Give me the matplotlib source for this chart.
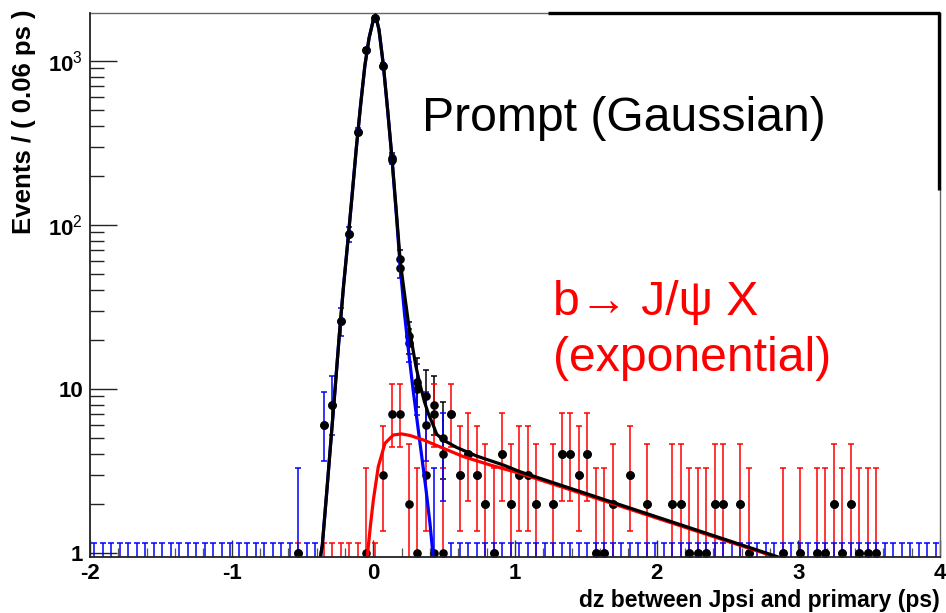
import numpy as np
import matplotlib
matplotlib.use("Agg")
import matplotlib.pyplot as plt
from matplotlib.ticker import FixedLocator, FixedFormatter, NullFormatter

plt.rcParams['font.family'] = ['Liberation Sans', 'DejaVu Sans']
plt.rcParams['mathtext.fontset'] = 'custom'
plt.rcParams['mathtext.rm'] = 'Liberation Sans'
plt.rcParams['mathtext.bf'] = 'Liberation Sans:bold'

# ---------------- data (bin index k -> centre -2 + 0.06*(k+0.5)) ----------------
x_min, x_max, n_bins = -2.0, 4.0, 100

prompt_bins = [24, 27, 28, 29, 30, 31, 32, 33, 34, 35, 36, 37, 38, 39, 40, 41]
prompt_counts = [1, 6, 8, 26, 88, 371, 1166, 1829, 933, 250, 55, 19, 10, 6, 1, 4]

nonprompt_bins = [32, 34, 35, 36, 37, 38, 39, 40, 41,
                  42, 43, 44, 45, 46, 47, 48, 49, 50, 51, 52, 54, 55, 56, 57, 58,
                  59, 60, 61, 63, 65, 68, 69, 70, 71, 72, 73, 74, 76, 77, 81, 83,
                  85, 86, 87, 88, 89, 90, 91, 92]
nonprompt_counts = [1, 3, 7, 7, 2, 1, 3, 7, 1,
                    7, 3, 4, 3, 2, 1, 4, 2, 3, 3, 2, 2, 4, 4, 3, 4,
                    1, 1, 2, 3, 2, 2, 2, 1, 1, 1, 2, 2, 2, 1, 1, 1,
                    1, 1, 2, 1, 2, 1, 1, 1]

total_bins = [24, 27, 28, 29, 30, 31, 32, 33, 34, 35, 36, 37, 38, 39, 40, 41,
              42, 43, 44, 45, 46, 47, 48, 49, 50, 51, 52, 54, 55, 56, 57, 58,
              59, 60, 61, 63, 65, 68, 69, 70, 71, 72, 73, 74, 76, 77, 81, 83,
              85, 86, 87, 88, 89, 90, 91, 92]
total_counts = [1, 6, 8, 26, 88, 371, 1167, 1829, 936, 257, 62, 21, 11, 9, 8, 5,
                7, 3, 4, 3, 2, 1, 4, 2, 3, 3, 2, 2, 4, 4, 3, 4,
                1, 1, 2, 3, 2, 2, 2, 1, 1, 1, 2, 2, 2, 1, 1, 1,
                1, 1, 2, 1, 2, 1, 1, 1]

# fitted curves
prompt_curve_x = [-0.39, -0.36, -0.33, -0.30, -0.27, -0.24, -0.21, -0.18, -0.15, -0.12,
                  -0.09, -0.06, -0.03, 0.0, 0.015, 0.04, 0.07, 0.10, 0.13, 0.16, 0.19,
                  0.22, 0.25, 0.28, 0.31, 0.34, 0.37, 0.40, 0.42, 0.44]
prompt_curve_y = [0.76, 1.12, 2.29, 4.79, 10.0, 21.4, 42.7, 79.4, 151, 295,
                  537, 933, 1380, 1778, 1905, 1549, 955, 513, 263, 123, 55,
                  28.8, 16.6, 10.0, 6.3, 3.98, 2.51, 1.51, 1.0, 0.63]

nonprompt_curve_x = [-0.05, -0.043, -0.02, 0.0, 0.035, 0.082, 0.141, 0.20, 0.26, 0.353,
                     0.494, 0.635, 0.824, 1.035, 2.80, 2.95]
nonprompt_curve_y = [0.80, 0.95, 1.48, 2.1, 3.36, 4.66, 5.24, 5.32, 5.2, 4.89,
                     4.35, 3.87, 3.44, 3.06, 0.97, 0.88]

total_curve_x = [-0.39, -0.36, -0.33, -0.30, -0.27, -0.24, -0.21, -0.18, -0.15, -0.12,
                 -0.09, -0.06, -0.03, 0.0, 0.015, 0.04, 0.07, 0.10, 0.13, 0.16, 0.19,
                 0.22, 0.25, 0.27, 0.30, 0.33, 0.36, 0.39, 0.42, 0.447, 0.50, 0.588,
                 0.729, 0.917, 1.035, 2.85, 2.95]
total_curve_y = [0.76, 1.12, 2.29, 4.79, 10.0, 21.4, 42.7, 79.4, 151, 295,
                 537, 933, 1380, 1778, 1905, 1549, 955, 513, 265, 128, 60,
                 38, 24.5, 19.5, 13.8, 10.6, 8.4, 7.0, 6.1, 5.3, 4.85, 4.4,
                 3.9, 3.44, 3.13, 0.95, 0.89]

# Poisson 68% intervals (as drawn by RooFit) for small counts
poisson_lo = [0.0, 0.173, 0.708, 1.367, 2.086, 2.840, 3.620, 4.419, 5.232, 6.057, 6.891, 7.734]
poisson_hi = [1.148, 3.300, 4.638, 5.918, 7.163, 8.382, 9.584, 10.77, 11.95, 13.11, 14.27, 15.42]

# ---------------- figure ----------------
fig = plt.figure(figsize=(9.46, 6.13), dpi=100)
ax = fig.add_axes([90 / 946, 1 - 557 / 613, 850 / 946, 544 / 613])
ax.set_xlim(x_min, x_max)
ax.set_yscale('log')
ax.set_ylim(0.945, 1960)

width = (x_max - x_min) / n_bins
centres = x_min + width * (np.arange(n_bins) + 0.5)


def full_counts(bins, counts):
    c = np.zeros(n_bins, dtype=int)
    c[np.array(bins)] = counts
    return c


c_tot = full_counts(total_bins, total_counts)
c_np = full_counts(nonprompt_bins, nonprompt_counts)
c_p = full_counts(prompt_bins, prompt_counts)


def draw_bars(c, show, color, z):
    lo = np.empty(n_bins)
    hi = np.empty(n_bins)
    for i, n in enumerate(c):
        if n < len(poisson_lo):
            lo[i], hi[i] = poisson_lo[n], poisson_hi[n]
        else:
            lo[i], hi[i] = n - np.sqrt(n), n + np.sqrt(n)
    lo = np.maximum(lo, 0.5)
    x = centres[show]
    ax.vlines(x, lo[show], hi[show], colors=color, lw=1.1, zorder=z)
    ax.plot(x, hi[show], ls='none', marker='_', ms=5, mew=1.1, color=color, zorder=z)
    ax.plot(x, lo[show], ls='none', marker='_', ms=5, mew=1.1, color=color, zorder=z)


# the three datasets overlap; only the visible layer is drawn for each bin
draw_bars(c_tot, (c_p > 0) & (c_np > 0), 'black', 2)
draw_bars(c_np, (c_np > 0) | (c_p > 0), '#ff0000', 3)
draw_bars(c_p, np.ones(n_bins, dtype=bool), '#0000ff', 4)

for c in (c_tot, c_np, c_p):
    m = c > 0
    ax.plot(centres[m], c[m], ls='none', marker='o', ms=6.2, color='black',
            mec='none', zorder=5)

ax.plot(prompt_curve_x, prompt_curve_y, color='#0000ff', lw=2.3, zorder=6,
        solid_joinstyle='round')
ax.plot(nonprompt_curve_x, nonprompt_curve_y, color='#ff0000', lw=2.3, zorder=7,
        solid_joinstyle='round')
ax.plot(total_curve_x, total_curve_y, color='black', lw=2.3, zorder=8,
        solid_joinstyle='round')

# ---------------- axes styling ----------------
for s in ('left', 'bottom'):
    ax.spines[s].set_color('#222222')
    ax.spines[s].set_linewidth(1.3)
for s in ('top', 'right'):
    ax.spines[s].set_color('#666666')
    ax.spines[s].set_linewidth(1.0)
ax.spines['left'].set_zorder(10)
ax.spines['bottom'].set_zorder(10)

ax.xaxis.set_major_locator(FixedLocator([-2, -1, 0, 1, 2, 3, 4]))
ax.xaxis.set_major_formatter(FixedFormatter(['-2', '-1', '0', '1', '2', '3', '4']))
ax.xaxis.set_minor_locator(FixedLocator(np.arange(-2, 4.01, 0.2)))
ax.yaxis.set_major_locator(FixedLocator([1, 10, 100, 1000]))
ax.yaxis.set_major_formatter(FixedFormatter(['1', '10', r'$\mathbf{10}^{2}$', r'$\mathbf{10}^{3}$']))
minors = [m * d for d in (1, 10, 100) for m in range(2, 10)]
ax.yaxis.set_minor_locator(FixedLocator(minors))
ax.yaxis.set_minor_formatter(NullFormatter())

ax.tick_params(axis='x', which='major', direction='in', length=12, width=1.0,
               color='#333333', top=False, labelsize=16, pad=4)
ax.tick_params(axis='x', which='minor', direction='in', length=6.5, width=0.9,
               color='#555555', top=False)
ax.tick_params(axis='y', which='major', direction='in', length=19.5, width=1.0,
               color='#222222', right=False, labelsize=16, pad=5)
ax.tick_params(axis='y', which='minor', direction='in', length=10, width=1.0,
               color='#222222', right=False)
for lab in ax.get_xticklabels() + ax.get_yticklabels():
    lab.set_fontweight('bold')

# partial thick frame of the "Prompt" pave
ax.plot([0.539, 1.0], [1.0, 1.0], color='black', lw=2.4, transform=ax.transAxes,
        clip_on=False, zorder=11, solid_capstyle='butt')
ax.plot([0.9985, 0.9985], [1.0, 0.675], color='black', lw=2.4, transform=ax.transAxes,
        clip_on=False, zorder=11, solid_capstyle='butt')

# ---------------- texts ----------------
fig.text(24 / 946, 1 - 10 / 613, 'Events / ( 0.06 ps )', rotation=90, ha='center',
         va='top', fontsize=18.5, fontweight='bold')
fig.text(940 / 946, 1 - 600 / 613, 'dz between Jpsi and primary (ps)', ha='right',
         va='center', fontsize=16.5, fontweight='bold')

fig.text(422 / 946, 1 - 131 / 613, 'Prompt (Gaussian)', ha='left', va='baseline',
         fontsize=34.7, color='black')
fig.text(553 / 946, 1 - 315 / 613, 'b\u2192 J/\u03c8 X', ha='left', va='baseline',
         fontsize=34.7, color='#ff0000')
fig.text(553 / 946, 1 - 371 / 613, '(exponential)', ha='left', va='baseline',
         fontsize=34.7, color='#ff0000')

fig.savefig('out.png', dpi=100)
